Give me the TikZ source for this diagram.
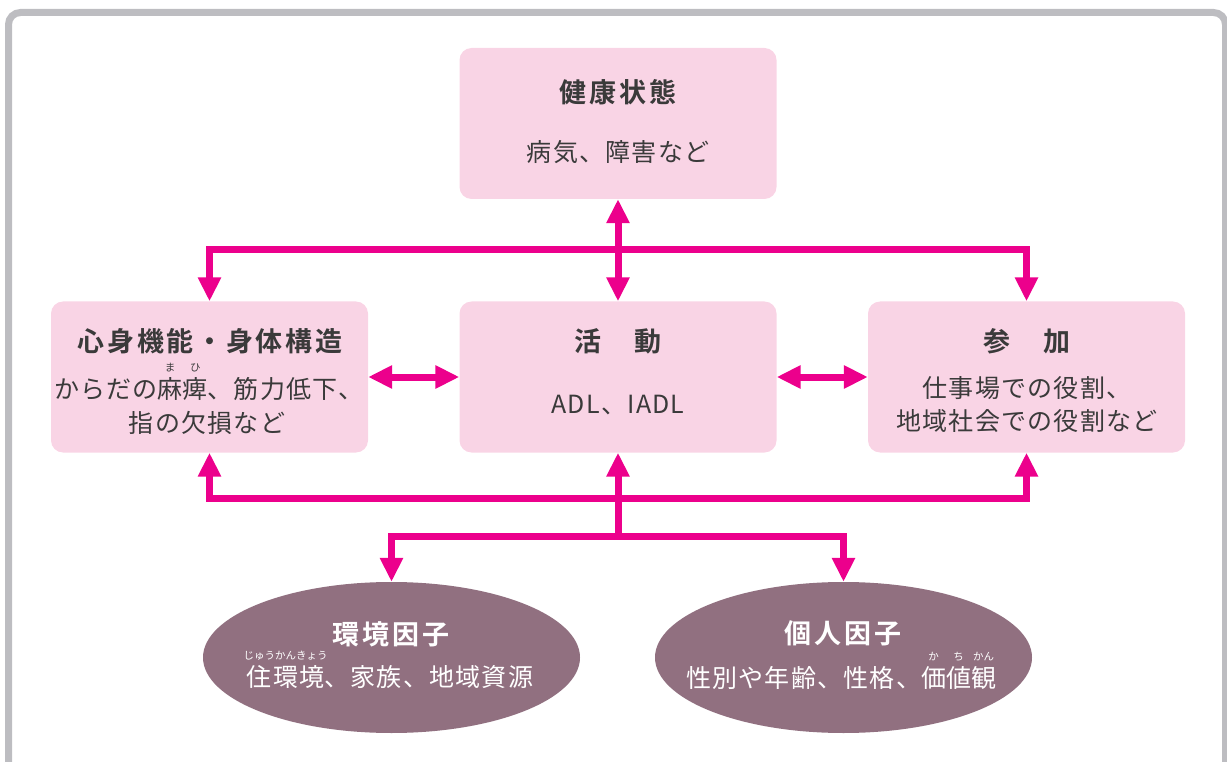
\documentclass[tikz,border=0pt]{standalone}
\usepackage{fontspec}
\newfontfamily\jpb[LetterSpace=10]{Noto Sans CJK JP Bold}
\newfontfamily\jpr[LetterSpace=5]{Noto Sans CJK JP}
\newfontfamily\jpruby{Noto Sans CJK JP}
\usetikzlibrary{arrows.meta,shapes.geometric,calc}
\definecolor{boxpink}{HTML}{F9D4E5}
\definecolor{mag}{HTML}{EC008C}
\definecolor{mauve}{HTML}{917080}
\definecolor{frameg}{HTML}{BDBDC1}
\definecolor{txt}{HTML}{3A3A3A}
\newcommand\myruby[2]{\leavevmode\setbox0\hbox{#1}\rlap{\hbox to\wd0{\hss\smash{\raise27pt\hbox{\jpruby\fontsize{10.5}{10.5}\selectfont #2}}\hss}}\box0}
\tikzset{
  pbox/.style={fill=boxpink, rounded corners=12pt, minimum width=317pt, minimum height=151pt, inner sep=0pt},
  fac/.style={ellipse, fill=mauve, minimum width=377pt, minimum height=151pt, inner sep=0pt},
  link/.style={draw=mag, line width=7pt, >={Triangle[width=22pt,length=24pt]}},
  ttl/.style={text=txt, font=\jpb\fontsize{27}{27}\selectfont, inner sep=0pt},
  bdy/.style={text=txt, font=\jpr\fontsize{25}{25}\selectfont, inner sep=0pt},
  wttl/.style={ttl, text=white},
  wbdy/.style={bdy, text=white},
}
\begin{document}
\begin{tikzpicture}[x=1pt,y=-1pt]
\useasboundingbox (0,0) rectangle (1227,762);
\clip (0,0) rectangle (1227,762);
\draw[frameg, line width=7pt, rounded corners=12pt] (8.5,800) -- (8.5,12.5) -- (1225.5,12.5) -- (1225.5,800);

% boxes
\node[pbox] (T) at (618,123.5) {};
\node[pbox] (L) at (209.5,377) {};
\node[pbox] (C) at (618,377) {};
\node[pbox] (R) at (1026.5,377) {};
\node[fac] (E1) at (391.5,657.5) {};
\node[fac] (E2) at (843.5,657.5) {};

% texts
\node[ttl] (t1) at (618,92) {健康状態};
\node[bdy] (t2) at (618,152) {病気、障害など};
\node[ttl] (l1) at (210,341) {心身機能・身体構造};
\node[bdy] (l2) at (209,389) {からだの\myruby{麻}{ま}\myruby{痺}{ひ}、筋力低下、};
\node[bdy] (l3) at (207,423) {指の欠損など};
\node[ttl] (c1) at (618,341) {活　動};
\node[bdy] (c2) at (618,405) {ADL、IADL};
\node[ttl] (r1) at (1027,341) {参　加};
\node[bdy] (r2) at (1027,388) {仕事場での役割、};
\node[bdy] (r3) at (1027,421) {地域社会での役割など};
\node[wttl] (e1a) at (391,634) {環境因子};
\node[wbdy] (e1b) at (390,677) {\myruby{住環境}{じゅうかんきょう}、家族、地域資源};
\node[wttl] (e2a) at (843,633) {個人因子};
\node[wbdy] (e2b) at (841,678) {性別や年齢、性格、\myruby{価}{か}\myruby{値}{ち}\myruby{観}{かん}};

% connectors
\coordinate (h1) at (618,250);
\coordinate (h2) at (618,498);
\coordinate (h3) at (618,536);
\draw[link,<->] (T.south) -- (C.north);
\draw[link,->] (h1) -| (L.north);
\draw[link,->] (h1) -| (R.north);
\draw[link,<->] (L.east) -- (C.west);
\draw[link,<->] (C.east) -- (R.west);
\draw[link,->] (h3) -- (C.south);
\draw[link,->] (h2) -| (L.south);
\draw[link,->] (h2) -| (R.south);
\draw[link,->] (h3) -| (E1.north);
\draw[link,->] (h3) -| (E2.north);
\end{tikzpicture}
\end{document}
